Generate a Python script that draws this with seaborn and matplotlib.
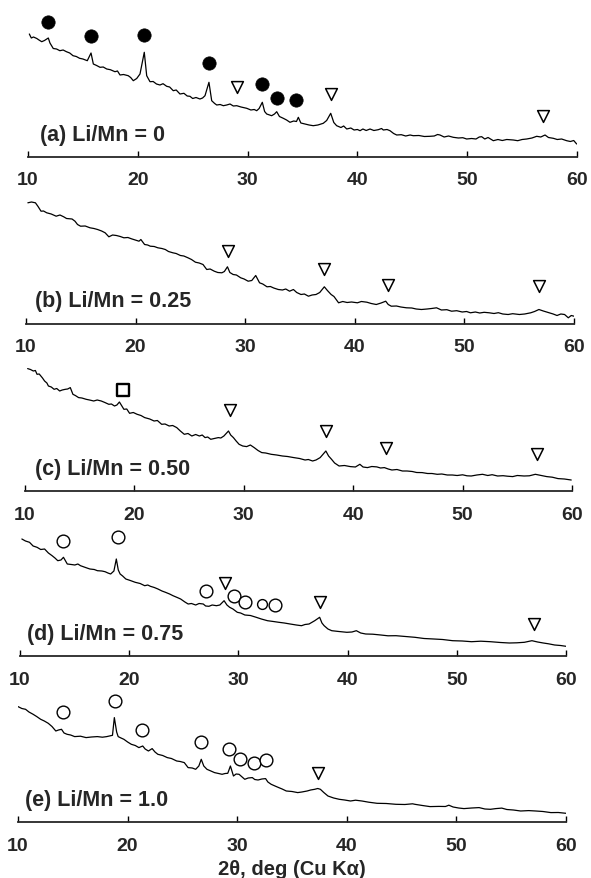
import matplotlib
matplotlib.use("Agg")
import matplotlib.pyplot as plt
import seaborn as sns

# XRD scans: (2-theta in deg, intensity in arb. units)
a_scan = [
    (10.12, 122.5), (10.3, 118.5), (10.5, 119.5), (10.8, 118), (11.0, 116.5), (11.25, 114.8),
    (11.5, 116), (11.85, 118.5), (12.0, 113.5), (12.3, 108), (12.6, 107.5), (12.9, 105.8),
    (13.2, 106.5), (13.5, 104.8), (13.8, 103.5), (14.1, 100.8), (14.4, 100), (14.7, 98.2),
    (15.0, 97.5), (15.4, 95.8), (15.74, 103.5), (15.95, 92.5), (16.25, 91), (16.56, 89.2),
    (16.85, 89.5), (17.17, 87.5), (17.5, 86.8), (17.92, 84.8), (18.15, 85.5), (18.38, 81.5),
    (18.7, 82), (19.13, 80.8), (19.35, 79), (19.59, 75.8), (19.9, 78), (20.2, 82.5),
    (20.59, 104.2), (20.81, 80.8), (21.11, 74.8), (21.4, 75), (21.7, 72.5), (22.02, 71.5),
    (22.3, 72.8), (22.63, 70.2), (22.9, 69.5), (23.23, 65.8), (23.5, 66.5), (23.84, 62.5),
    (24.2, 63.2), (24.5, 60.5), (24.75, 60.2), (25.0, 58), (25.3, 59), (25.66, 57.5),
    (25.9, 58.5), (26.12, 60.8), (26.48, 74.2), (26.73, 55.8), (27.0, 53), (27.19, 51.5),
    (27.5, 52), (27.79, 50.8), (28.1, 51.5), (28.4, 52.5), (28.7, 50.5), (29.01, 50.8),
    (29.4, 49.5), (29.92, 48.2), (30.3, 46.5), (30.6, 47), (30.83, 45.8), (31.05, 48),
    (31.34, 54.2), (31.55, 45), (31.74, 42.5), (32.0, 41.5), (32.19, 40.8), (32.45, 42.5),
    (32.65, 44.8), (32.9, 40), (33.25, 38.2), (33.55, 36.5), (33.86, 34.2), (34.2, 35.5),
    (34.45, 35), (34.62, 39.2), (34.85, 33.5), (35.23, 32.5), (35.6, 31.5), (35.98, 30.8),
    (36.4, 31.5), (36.89, 33.2), (37.2, 36), (37.57, 43.2), (37.85, 34), (38.11, 30.8),
    (38.5, 29), (38.75, 30.5), (39.03, 27.5), (39.4, 28.5), (39.7, 26.5), (40.0, 27),
    (40.24, 25.8), (40.5, 27.5), (40.8, 26), (41.15, 27.5), (41.5, 26), (41.9, 26.8),
    (42.2, 28), (42.36, 26.5), (42.7, 27), (42.97, 25.8), (43.3, 23), (43.58, 21.5),
    (44.0, 21.8), (44.4, 20.5), (44.8, 21.5), (45.09, 20.8), (45.6, 21), (46.1, 20),
    (46.61, 20.2), (47.0, 20.5), (47.3, 22), (47.52, 21.5), (47.9, 19.5), (48.3, 20.5),
    (48.73, 19.2), (49.2, 18.5), (49.6, 18.8), (49.95, 17.5), (50.4, 18), (50.8, 17.5),
    (51.1, 19.5), (51.32, 19.8), (51.6, 17.5), (51.9, 19), (52.38, 15.8), (52.8, 17),
    (53.2, 16), (53.6, 17), (54.2, 16.5), (54.6, 15.8), (55.0, 17), (55.42, 17.5),
    (55.9, 18.5), (56.33, 20.2), (56.7, 19.5), (57.09, 21.5), (57.4, 19), (57.84, 18.2),
    (58.2, 17), (58.6, 17.5), (59.06, 15.8), (59.4, 15), (59.7, 16), (59.97, 12.5),
]

b_scan = [
    (10.17, 120.7), (10.5, 121.5), (10.86, 120.7), (11.1, 117), (11.37, 112.3), (11.6, 112.5),
    (11.89, 110.7), (12.3, 109.5), (12.75, 107.3), (13.1, 108.5), (13.44, 106.7), (13.7, 105),
    (13.95, 104.7), (14.2, 104.5), (14.47, 102.3), (14.7, 99), (14.98, 97.3), (15.4, 97.5),
    (15.84, 95.7), (16.2, 95), (16.53, 94), (16.9, 92.5), (17.22, 90.7), (17.56, 86.7),
    (17.9, 88.5), (18.25, 88), (18.6, 87), (18.93, 85.7), (19.3, 86), (19.62, 84.7),
    (19.95, 83.5), (20.31, 82.3), (20.48, 84), (20.82, 79), (21.1, 78.5), (21.34, 77.3),
    (21.7, 77), (22.03, 75.7), (22.4, 75), (22.71, 74), (23.0, 72), (23.4, 70.7),
    (23.7, 70), (24.09, 68), (24.4, 67.5), (24.78, 65.7), (25.1, 64), (25.46, 61.3),
    (25.8, 60.5), (26.15, 59), (26.49, 54), (26.8, 54.5), (27.18, 52.3), (27.5, 51),
    (27.87, 50.7), (28.1, 52), (28.38, 56.7), (28.6, 51), (28.9, 49), (29.2, 48.5),
    (29.59, 45.7), (29.9, 44.5), (30.27, 42.3), (30.6, 43), (30.96, 48), (31.31, 40.7),
    (31.6, 39.5), (31.99, 36.7), (32.3, 37), (32.6, 35.5), (33.02, 34), (33.4, 33.5),
    (33.7, 34.5), (34.05, 32.3), (34.4, 34), (34.7, 31), (35.09, 29), (35.4, 29.5),
    (35.77, 27.3), (36.1, 28.5), (36.46, 29), (36.8, 31), (37.22, 36.7), (37.5, 33),
    (37.84, 29), (38.1, 27), (38.52, 20.7), (38.9, 22), (39.3, 21), (39.7, 21.5),
    (40.24, 20.7), (40.6, 22), (41.1, 21.3), (41.5, 20), (41.96, 19), (42.4, 20.5),
    (42.82, 22.3), (43.05, 19), (43.33, 17.3), (43.8, 17.5), (44.2, 16.5), (44.71, 15.7),
    (45.2, 15.5), (45.6, 14.5), (46.08, 14), (46.6, 14.5), (47.0, 15), (47.46, 15.7),
    (47.9, 13.5), (48.4, 13.8), (48.83, 12.3), (49.3, 12.8), (49.8, 11.5), (50.2, 12),
    (50.55, 10.7), (51.0, 11.5), (51.4, 10.5), (51.8, 11.2), (52.27, 10.7), (52.7, 10),
    (53.1, 10.8), (53.5, 9.5), (53.99, 9), (54.4, 9.8), (55.02, 9), (55.5, 9.5),
    (56.05, 10.7), (56.4, 12), (56.8, 14), (57.2, 12.5), (57.5, 11.5), (57.77, 10.7),
    (58.1, 9.5), (58.45, 8), (58.8, 9.5), (59.14, 9), (59.48, 5.7), (59.75, 8), (60.0, 7.3),
]

c_scan = [
    (10.24, 122.4), (10.5, 121.5), (10.76, 120), (10.95, 120.5), (11.1, 116.7), (11.3, 117),
    (11.45, 115), (11.6, 113), (11.79, 110), (12.0, 108), (12.14, 105), (12.4, 104),
    (12.66, 101.7), (12.9, 102.5), (13.17, 100), (13.4, 101), (13.69, 101.7), (13.9, 102),
    (14.14, 103.4), (14.38, 96.7), (14.6, 95.5), (14.9, 93.4), (15.2, 93), (15.59, 91.7),
    (15.9, 91), (16.28, 90), (16.6, 91), (16.97, 90), (17.3, 88.5), (17.66, 86.7),
    (17.9, 87), (18.18, 85), (18.4, 86), (18.63, 89), (18.85, 85), (19.04, 81.7),
    (19.3, 82), (19.56, 77.7), (19.9, 78.5), (20.25, 76.7), (20.6, 75.5), (20.94, 73.4),
    (21.4, 72), (21.8, 70), (22.1, 70.5), (22.49, 66.7), (22.8, 67), (23.18, 65),
    (23.5, 65.5), (23.87, 63.4), (24.2, 60), (24.56, 56.7), (24.9, 57.5), (25.25, 55),
    (25.6, 56.5), (25.94, 55), (26.2, 56), (26.46, 53.4), (26.7, 54), (26.98, 51.7),
    (27.3, 52.5), (27.67, 53.4), (27.9, 53), (28.18, 55), (28.6, 60), (28.8, 56),
    (29.05, 53.4), (29.3, 50), (29.57, 46.7), (29.9, 45), (30.26, 44.4), (30.6, 46),
    (30.95, 43.4), (31.3, 40.5), (31.64, 38.4), (32.0, 38), (32.5, 36.7), (33.0, 36),
    (33.53, 35), (34.0, 34.5), (34.57, 33.4), (35.1, 32.5), (35.6, 31), (35.9, 31.5),
    (36.29, 30), (36.6, 31), (36.98, 33.4), (37.5, 40), (37.75, 35), (38.02, 31.7),
    (38.3, 28), (38.71, 25), (39.2, 25.5), (39.74, 24.4), (40.2, 24), (40.61, 26.7),
    (40.9, 24), (41.3, 23.4), (41.7, 24.5), (42.16, 24.1), (42.5, 23), (42.85, 23.4),
    (43.2, 22), (43.54, 21), (44.0, 21.5), (44.5, 20), (44.92, 20), (45.4, 19.5),
    (45.8, 18.5), (46.3, 18.4), (46.8, 17.5), (47.2, 17.5), (47.68, 16.7), (48.1, 17),
    (48.6, 16), (49.06, 16), (49.5, 15.5), (50.0, 16.2), (50.4, 15.2), (50.79, 15),
    (51.3, 16), (51.82, 16.7), (52.3, 15.5), (52.7, 16.3), (53.2, 15), (53.7, 15.3),
    (54.1, 14.8), (54.58, 14.4), (55.0, 15.5), (55.62, 15), (56.1, 15.2), (56.65, 16.7),
    (57.2, 15.5), (57.69, 14.4), (58.2, 13.8), (58.72, 12.4), (59.3, 12), (59.93, 11),
]

d_scan = [
    (10.17, 117), (10.5, 115), (10.87, 113.7), (11.2, 110), (11.56, 108.7), (11.9, 106.5),
    (12.25, 107), (12.6, 103), (12.94, 100.3), (13.2, 98), (13.46, 95.3), (13.75, 96),
    (13.98, 98.7), (14.33, 92), (14.7, 91.5), (15.02, 91), (15.3, 92), (15.54, 90.3),
    (16.0, 88.5), (16.4, 87), (16.8, 86.5), (17.09, 85.3), (17.5, 85), (17.79, 84.3),
    (18.05, 83), (18.3, 82), (18.6, 85), (18.82, 97), (19.0, 86), (19.17, 82),
    (19.4, 80), (19.69, 77), (20.1, 75.5), (20.55, 73.7), (21.0, 72.5), (21.42, 70.3),
    (21.7, 71), (21.94, 69.7), (22.3, 68.5), (22.63, 67), (23.0, 65), (23.32, 63.7),
    (23.7, 62), (24.01, 60.3), (24.4, 58.5), (24.71, 57), (25.1, 54), (25.4, 52),
    (25.7, 52.5), (26.09, 51), (26.4, 52.5), (26.78, 52), (27.0, 50), (27.3, 49.7),
    (27.6, 51), (27.99, 50.3), (28.3, 51), (28.69, 55.3), (28.95, 51), (29.2, 48.7),
    (29.5, 47), (29.9, 43.7), (30.2, 43), (30.59, 41), (31.1, 40.5), (31.63, 38.7),
    (32.1, 37), (32.66, 35.3), (33.2, 34.5), (33.7, 33.7), (34.2, 33), (34.74, 32),
    (35.3, 31), (35.78, 30.3), (36.1, 31.5), (36.47, 32), (36.99, 35.3), (37.44, 38.7),
    (37.65, 33), (37.85, 30.3), (38.2, 27), (38.55, 25.3), (39.2, 24.5), (39.93, 23.7),
    (40.4, 24), (40.8, 25.3), (41.2, 23), (41.66, 22), (42.3, 21.8), (43.04, 21),
    (43.7, 20.2), (44.43, 20.3), (45.3, 19.5), (46.16, 18.7), (47.0, 17.5), (47.89, 17),
    (48.7, 16.5), (49.62, 15.3), (50.5, 15), (51.35, 14.3), (52.2, 14.8), (53.08, 14.3),
    (54.0, 13.5), (54.81, 13), (55.5, 13.2), (56.19, 13.7), (56.88, 15.3), (57.4, 14),
    (57.92, 13), (58.4, 12.2), (58.96, 11), (59.5, 10.5), (60.0, 9.7),
]

e_scan = [
    (10.0, 115.4), (10.35, 113.5), (10.69, 112.7), (11.0, 110), (11.38, 107.7), (11.7, 105.5),
    (12.07, 102.7), (12.4, 101), (12.76, 98.7), (13.1, 95.5), (13.45, 91), (13.7, 92),
    (13.97, 92.7), (14.2, 89), (14.48, 87.7), (14.8, 87), (15.17, 85.4), (15.7, 85.8),
    (16.21, 84.4), (16.7, 85), (17.24, 85.4), (17.7, 84.8), (18.1, 85.4), (18.62, 86.7),
    (18.79, 104.4), (19.0, 90), (19.14, 85.4), (19.4, 84), (19.66, 82.7), (20.0, 80),
    (20.34, 77.7), (20.7, 76.5), (21.03, 74.4), (21.38, 76), (21.6, 73), (21.9, 71),
    (22.24, 73.4), (22.5, 70), (22.76, 67.7), (23.2, 66.5), (23.62, 64.4), (24.0, 63.5),
    (24.48, 61), (24.8, 60.5), (25.17, 59.4), (25.52, 54.4), (25.9, 54), (26.21, 52.7),
    (26.5, 56), (26.72, 62.7), (26.95, 56), (27.24, 52.7), (27.6, 51), (27.93, 49.4),
    (28.3, 48.5), (28.62, 47.7), (28.9, 48.5), (29.14, 48.7), (29.38, 56), (29.66, 46),
    (29.9, 48), (30.17, 47.7), (30.45, 45), (30.69, 42.7), (31.0, 44), (31.38, 44.4),
    (31.6, 42.5), (31.9, 42), (32.25, 43), (32.59, 43.4), (32.8, 40), (33.1, 37.7),
    (33.45, 36), (33.79, 34.4), (34.1, 33), (34.48, 31), (35.0, 30.5), (35.52, 29.4),
    (35.9, 30), (36.38, 31), (36.7, 32), (37.07, 32.7), (37.35, 33.5), (37.59, 32.7),
    (37.9, 29.5), (38.28, 26), (38.8, 24), (39.31, 22.7), (39.8, 22), (40.34, 21),
    (40.8, 21.8), (41.38, 21), (42.0, 19.8), (42.76, 18.7), (43.6, 18.5), (44.48, 17.7),
    (45.3, 17.5), (46.0, 18.2), (46.21, 17.7), (46.9, 16.5), (47.59, 15.4), (48.4, 15.6),
    (49.0, 15.5), (49.31, 16.8), (49.7, 15), (50.2, 14), (50.69, 13.4), (51.4, 14),
    (52.07, 14.4), (52.6, 13), (53.1, 12.7), (53.6, 13.4), (54.14, 13.9), (54.6, 12.5),
    (55.2, 12), (55.86, 11), (56.6, 11.4), (57.24, 11), (57.9, 10.5), (58.62, 9.4),
    (59.3, 9.5), (60.0, 8.7),
]

# phase markers (2-theta, height above the trace)
a_dot_tt = [11.82, 15.74, 20.56, 26.48, 31.31, 32.68, 34.41]
a_dot_h = [134.5, 120.5, 121.5, 93.5, 72.5, 58.5, 56.5]
a_tri_tt = [29.03, 37.6, 56.9]
a_tri_h = [69.5, 62.5, 40.5]
b_tri_tt = [28.4, 37.22, 43.0, 56.8]
b_tri_h = [73, 54.7, 39, 37.3]
c_sq_tt = [18.95]
c_sq_h = [101.5]
c_tri_tt = [28.77, 37.54, 43.02, 56.76]
c_tri_h = [81, 60, 43.4, 36.7]
d_circ_tt = [13.98, 18.94, 27.06, 29.62, 30.59, 33.36]
d_circ_h = [115, 118.7, 65.3, 59.7, 54.3, 51]
d_small_tt = [32.2]
d_small_h = [52.5]
d_tri_tt = [28.79, 37.51, 57.06]
d_tri_h = [73, 54.3, 32]
e_circ_tt = [14.14, 18.86, 21.33, 26.74, 29.23, 30.22, 31.5, 32.61]
e_circ_h = [110, 121.2, 92, 80.2, 72.8, 63.2, 58.7, 62]
e_tri_tt = [37.34]
e_tri_h = [49]

labels = ["(a) Li/Mn = 0", "(b) Li/Mn = 0.25", "(c) Li/Mn = 0.50",
          "(d) Li/Mn = 0.75", "(e) Li/Mn = 1.0"]

sns.set_theme(style="ticks")
plt.rcParams['font.family'] = ['Liberation Sans', 'DejaVu Sans']

W, H = 591, 879
SPAN = 150

MARK = {
    'dot': dict(marker='o', s=92, color='black', edgecolor='black', linewidth=0.5),
    'circ': dict(marker='o', s=84, color='white', edgecolor='black', linewidth=1.0),
    'small': dict(marker='o', s=50, color='white', edgecolor='black', linewidth=1.0),
    'tri': dict(marker='v', s=72, color='white', edgecolor='black', linewidth=1.1),
    'sq': dict(marker='s', s=66, color='white', edgecolor='black', linewidth=1.7),
}

# (scan, markers, left px, right px, baseline px, label x)
panels = [
    (a_scan, [('dot', a_dot_tt, a_dot_h), ('tri', a_tri_tt, a_tri_h)], 28, 577, 157.5, 11.1),
    (b_scan, [('tri', b_tri_tt, b_tri_h)], 26, 574, 324.5, 10.8),
    (c_scan, [('sq', c_sq_tt, c_sq_h), ('tri', c_tri_tt, c_tri_h)], 25, 572, 492, 10.9),
    (d_scan, [('circ', d_circ_tt, d_circ_h), ('small', d_small_tt, d_small_h),
              ('tri', d_tri_tt, d_tri_h)], 20, 566, 657, 10.65),
    (e_scan, [('circ', e_circ_tt, e_circ_h), ('tri', e_tri_tt, e_tri_h)], 18, 566, 823, 10.65),
]

fig = plt.figure(figsize=(W / 100, H / 100), dpi=100)

for i, (scan, marks, left, right, base, lab_x) in enumerate(panels):
    tt, inten = zip(*scan)
    ax = fig.add_axes([left / W, 1 - base / H, (right - left) / W, SPAN / H])
    ax.patch.set_visible(False)
    sns.lineplot(x=list(tt), y=list(inten), ax=ax, color='black', linewidth=0.9,
                 estimator=None, sort=False)
    for kind, mx, my in marks:
        sns.scatterplot(x=mx, y=my, ax=ax, clip_on=False, zorder=3, **MARK[kind])
    ax.set_xlim(10, 60)
    ax.set_ylim(0, SPAN)
    ax.set_xticks(range(10, 61, 10))
    ax.set_yticks([])
    sns.despine(ax=ax, left=True)
    ax.spines['bottom'].set_linewidth(1.3)
    ax.tick_params(axis='x', direction='in', length=4, width=1, pad=10.5,
                   labelsize=14, color='black')
    for t in ax.get_xticklabels():
        t.set_fontweight('bold')
    ax.text(lab_x, 22.5, labels[i], fontsize=15.5, fontweight='bold',
            va='center', ha='left')
    if i == len(panels) - 1:
        ax.set_xlabel("2θ, deg (Cu Kα)", fontsize=14.5, fontweight='bold', labelpad=4)
    else:
        ax.set_xlabel("")
    ax.set_ylabel("")

fig.savefig("out.png", dpi=100, facecolor='white')
